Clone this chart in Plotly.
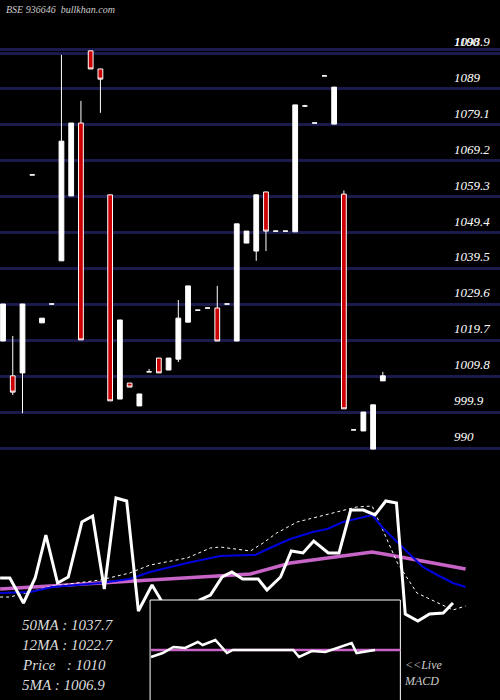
import plotly.graph_objects as go

# ---- price candles (index order) ----
opens  = [1019.5,1009.9,1010.7,1065.3,1024.5,1029.7,1041.6,1059.5,1079.6,1099.5,1094.5,1059.8,1003.5,1007.9,1001.6,1011.0,1014.8,1011.5,1014.5,1024.7,1028.0,1028.6,1028.6,1029.7,1019.5,1046.5,1044.3,1060.6,1049.8,1049.8,1049.6,1084.3,1079.6,1092.6,1079.3,1060.0,995.0,994.7,989.7,1008.5]
closes = [1029.7,1005.4,1029.7,1065.3,1025.8,1029.7,1074.6,1079.6,1019.8,1094.5,1091.7,1003.0,1025.3,1006.8,1004.9,1011.0,1010.7,1014.8,1025.8,1034.7,1028.0,1028.6,1019.5,1029.7,1051.8,1049.8,1059.8,1049.8,1049.8,1049.8,1084.6,1084.3,1079.6,1092.6,1089.5,1000.8,995.0,999.9,1001.9,1009.9]
highs  = [1029.7,1020.9,1029.7,1065.3,1025.8,1029.7,1098.4,1079.6,1085.7,1099.5,1094.5,1059.8,1025.3,1007.9,1004.9,1011.8,1014.8,1014.8,1030.8,1034.7,1028.0,1028.6,1034.7,1029.7,1051.8,1049.8,1059.8,1060.6,1049.8,1049.8,1084.6,1084.6,1079.6,1092.6,1089.5,1061.0,995.0,999.9,1001.9,1011.0]
lows   = [1019.5,1004.6,999.6,1065.3,1024.5,1029.7,1041.6,1059.5,1019.8,1094.5,1082.4,1003.0,1003.5,1006.8,1001.6,1011.0,1010.7,1011.5,1013.7,1024.7,1028.0,1028.6,1019.5,1029.7,1019.5,1046.5,1041.6,1044.3,1049.8,1049.8,1049.6,1084.0,1079.6,1092.6,1079.3,1000.8,995.0,994.7,989.7,1008.5]
price_ticks = [1098.9,1089,1079.1,1069.2,1059.3,1049.4,1039.5,1029.6,1019.7,1009.8,999.9,990]

# ---- lower indicator panel (levels, 0..700 scale) ----
osc_x = [-0.3,0.7,2.1,3.3,4.4,5.6,6.7,8.1,9.2,10.4,11.6,12.7,13.9,15.3,16.4,17.7,19.2,20.2,21.3,22.5,23.5,24.6,25.7,26.2,27.1,28.5,29.6,30.8,31.9,33.4,34.5,35.7,37.0,38.2,39.3,40.4,41.3,42.6,43.8,45.2,46.2,47.5]
osc_y = [122,122,97,122,165,117,123,178,184,111,202,199,89,115,97,80,85,100,105,123,128,121,121,121,110,123,149,147,159,147,147,190,190,185,199,197,86,79,86,87,97]
osc_x = osc_x[:len(osc_y)]
blue_x = [-0.3,2.8,5.1,10.0,13.0,15.1,18.9,22.3,25.4,25.9,27.4,29.5,31.8,33.3,34.9,37.9,39.0,41.1,43.1,44.6,46.2,47.5]
blue_y = [107,108,113,117,121,128,137,144,145,145,152,161,168,171,178,185,172,152,133,125,117,113]
dot_x = [-0.3,0.7,5.1,10.0,13.0,15.1,18.9,21.3,22.3,25.4,26.7,28.1,30.2,32.2,34.3,36.3,37.9,39.0,40.5,42.5,44.6,46.2,47.5]
dot_y = [103,103,114,120,127,135,142,152,153,149,157,167,178,183,188,193,194,170,137,107,97,90,94]
mag_x = [-0.3,25.4,29.5,37.9,39.7,47.5]
mag_y = [111,126,137,148,145,131]
macd_x = [15.2,16.4,17.5,18.7,20.0,20.5,21.8,23.0,23.6,25.4,29.8,30.4,31.7,33.1,35.0,35.8,36.3,38.2]
macd_y = [43,47,53,52,58,55,60,47,50,50,50,43,49,48,54,57,47,50]
macd_sig_x = [15.2,40.8]
macd_sig_y = [50,50]
box_x = [15.1,40.8,40.8,15.1,15.1]
box_y = [100,100,-5,-5,100]

left_labels = ["50MA : 1037.7", "12MA : 1022.7", "Price   : 1010", "5MA : 1006.9"]

fig = go.Figure()
fig.add_trace(go.Candlestick(
    x=list(range(len(opens))), open=opens, high=highs, low=lows, close=closes,
    increasing=dict(fillcolor="white", line=dict(color="white", width=1)),
    decreasing=dict(fillcolor="#cc0000", line=dict(color="white", width=1)),
    whiskerwidth=0, showlegend=False, hoverinfo="skip"))

fig.add_trace(go.Scatter(x=mag_x, y=mag_y, yaxis="y2", mode="lines",
                         line=dict(color="#c864c8", width=3.5), showlegend=False))
fig.add_trace(go.Scatter(x=dot_x, y=dot_y, yaxis="y2", mode="lines",
                         line=dict(color="white", width=1, dash="dot"), showlegend=False))
fig.add_trace(go.Scatter(x=blue_x, y=blue_y, yaxis="y2", mode="lines",
                         line=dict(color="#0000dd", width=2), showlegend=False))
fig.add_trace(go.Scatter(x=osc_x, y=osc_y, yaxis="y2", mode="lines",
                         line=dict(color="white", width=3), showlegend=False))

fig.add_trace(go.Scatter(x=box_x, y=box_y, yaxis="y3", mode="lines", fill="toself",
                         fillcolor="black", line=dict(color="white", width=1), showlegend=False))
fig.add_trace(go.Scatter(x=macd_sig_x, y=macd_sig_y, yaxis="y3", mode="lines",
                         line=dict(color="#c864c8", width=2.5), showlegend=False))
fig.add_trace(go.Scatter(x=macd_x, y=macd_y, yaxis="y3", mode="lines",
                         line=dict(color="white", width=2.5), showlegend=False))

font_it = dict(family="Liberation Serif", color="white")
ann = []
for v in price_ticks:
    ann.append(dict(x=452/500, xref="paper", y=v, yref="y", text=f"<i>{v:g}</i>",
                    showarrow=False, xanchor="left", yanchor="bottom", yshift=2,
                    font=dict(size=13, **font_it)))
ann.append(dict(x=452/500, xref="paper", y=1100, yref="y", text="<i>1100</i>",
                showarrow=False, xanchor="left", yanchor="bottom", yshift=-2,
                font=dict(size=13, **font_it)))
for i, t in enumerate(left_labels):
    ann.append(dict(x=20/500, xref="paper", y=1 - (625 + 20 * i) / 700, yref="paper",
                    text=f"<i>{t}</i>", showarrow=False, xanchor="left", yanchor="middle",
                    font=dict(size=15, family="Liberation Serif", color="#dddddd")))
ann.append(dict(x=402/500, xref="paper", y=1 - 673 / 700, yref="paper",
                text="<i>&lt;&lt;Live<br>MACD</i>", showarrow=False, xanchor="left",
                yanchor="middle", align="left",
                font=dict(size=12, family="Liberation Serif", color="#cccccc")))
ann.append(dict(x=4/500, xref="paper", y=1 - 10 / 700, yref="paper",
                text="<i>BSE 936646  bullkhan.com</i>", showarrow=False, xanchor="left",
                yanchor="middle", font=dict(size=10, family="Liberation Serif", color="#cccccc")))

fig.update_layout(
    width=500, height=700, margin=dict(l=0, r=0, t=0, b=0),
    paper_bgcolor="black", plot_bgcolor="black",
    xaxis=dict(range=[-0.31, 51.03], domain=[0, 1], showgrid=False, zeroline=False,
               showticklabels=False, rangeslider=dict(visible=False), fixedrange=True),
    yaxis=dict(range=[920.52, 1113.52], domain=[0, 1], tickvals=price_ticks + [1100],
               showticklabels=False, gridcolor="#1a1a4c", gridwidth=3, zeroline=False),
    yaxis2=dict(range=[0, 700], overlaying="y", showgrid=False, showticklabels=False, zeroline=False),
    yaxis3=dict(range=[0, 700], overlaying="y", showgrid=False, showticklabels=False, zeroline=False),
    annotations=ann,
)
fig.write_html("out.html", config={"displayModeBar": False},
               post_script="document.body.style.margin='0px';document.body.style.overflow='hidden';document.body.style.background='black';")
